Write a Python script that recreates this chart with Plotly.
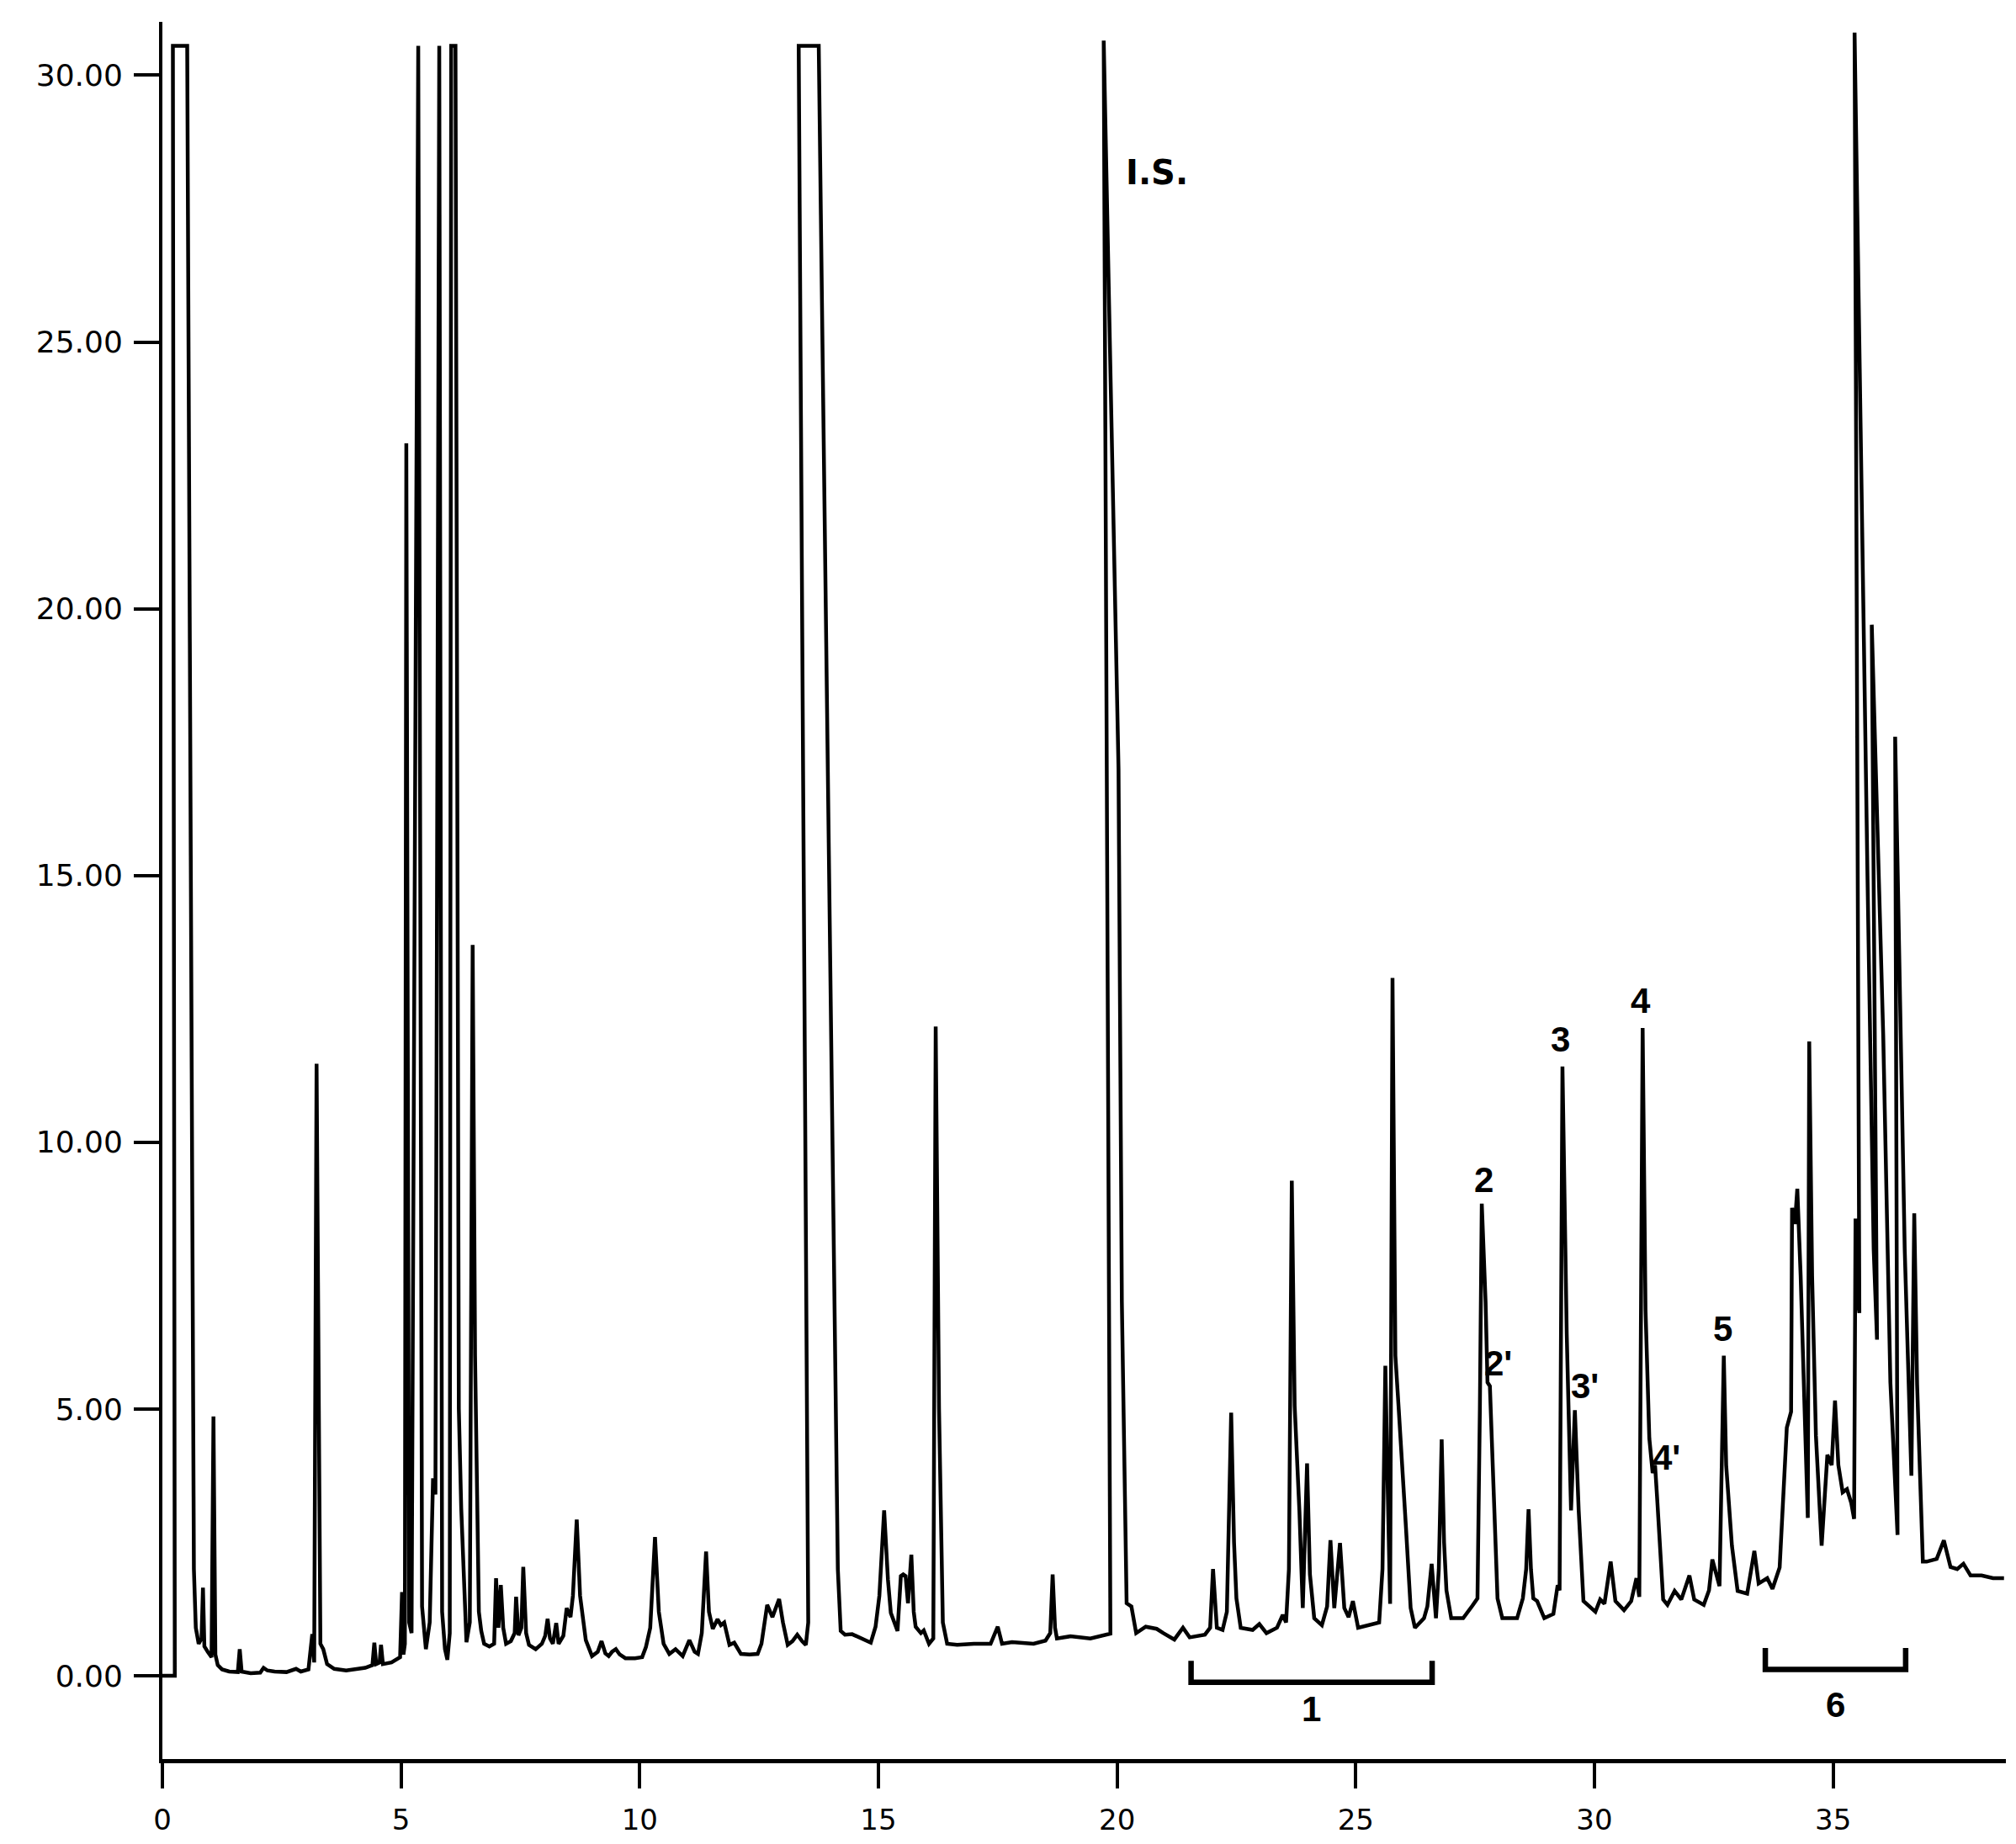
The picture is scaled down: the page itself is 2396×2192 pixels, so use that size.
import plotly.graph_objects as go

# ---------------- data ----------------
retention_time = [
    0.00, 0.26, 0.22, 0.52, 0.66, 0.70, 0.76, 0.82, 0.85, 0.88, 0.95, 1.03, 1.07, 1.11, 1.16,
    1.25, 1.40, 1.58, 1.62, 1.66, 1.85, 2.05, 2.12, 2.20, 2.35, 2.60, 2.80, 2.90, 3.06, 3.14,
    3.18, 3.23, 3.31, 3.37, 3.45, 3.60, 3.85, 4.05, 4.25, 4.40, 4.44, 4.48, 4.55, 4.58, 4.62,
    4.80, 4.90, 4.98, 5.02, 5.05, 5.08, 5.11, 5.17, 5.22, 5.36, 5.44, 5.52, 5.60, 5.67, 5.72,
    5.80, 5.86, 5.92, 5.97, 6.02, 6.05, 6.14, 6.21, 6.26, 6.31, 6.37, 6.44, 6.50, 6.55, 6.59,
    6.63, 6.68, 6.74, 6.85, 6.95, 6.99, 7.04, 7.09, 7.14, 7.20, 7.30, 7.38, 7.41, 7.46, 7.52,
    7.56, 7.62, 7.68, 7.82, 7.95, 8.02, 8.07, 8.12, 8.18, 8.25, 8.30, 8.40, 8.47, 8.55, 8.60,
    8.68, 8.75, 8.87, 9.00, 9.12, 9.20, 9.28, 9.35, 9.42, 9.50, 9.58, 9.70, 9.90, 10.05, 10.13,
    10.22, 10.32, 10.40, 10.50, 10.62, 10.75, 10.90, 11.04, 11.15, 11.22, 11.30, 11.39, 11.45, 11.53, 11.63,
    11.70, 11.77, 11.88, 11.98, 12.12, 12.30, 12.47, 12.55, 12.67, 12.78, 12.92, 13.00, 13.10, 13.20, 13.30,
    13.40, 13.48, 13.53, 13.33, 13.75, 14.08, 14.15, 14.21, 14.30, 14.45, 14.60, 14.75, 14.84, 14.94, 15.02,
    15.12, 15.20, 15.26, 15.40, 15.47, 15.52, 15.57, 15.62, 15.69, 15.74, 15.78, 15.89, 15.95, 16.06, 16.15,
    16.20, 16.27, 16.35, 16.44, 16.65, 17.00, 17.35, 17.50, 17.59, 17.80, 18.05, 18.25, 18.50, 18.60, 18.65,
    18.70, 18.74, 19.02, 19.44, 19.86, 19.72, 20.03, 20.10, 20.20, 20.30, 20.40, 20.60, 20.83, 20.97, 21.20,
    21.38, 21.52, 21.84, 21.95, 22.01, 22.09, 22.21, 22.30, 22.39, 22.45, 22.50, 22.59, 22.84, 22.98, 23.13,
    23.35, 23.47, 23.54, 23.60, 23.66, 23.72, 23.82, 23.89, 23.98, 24.04, 24.13, 24.29, 24.40, 24.47, 24.55,
    24.67, 24.76, 24.85, 24.94, 25.05, 25.30, 25.49, 25.56, 25.62, 25.67, 25.72, 25.77, 25.83, 25.90, 25.99,
    26.05, 26.15, 26.24, 26.43, 26.50, 26.59, 26.64, 26.68, 26.74, 26.80, 26.85, 26.90, 27.00, 27.25, 27.44,
    27.55, 27.60, 27.64, 27.72, 27.76, 27.81, 27.85, 27.88, 27.97, 28.07, 28.38, 28.50, 28.57, 28.62, 28.67,
    28.72, 28.80, 28.95, 29.14, 29.23, 29.27, 29.33, 29.42, 29.51, 29.59, 29.67, 29.77, 30.02, 30.12, 30.21,
    30.34, 30.44, 30.62, 30.77, 30.88, 30.94, 31.01, 31.07, 31.15, 31.22, 31.27, 31.32, 31.44, 31.53, 31.68,
    31.82, 31.99, 32.09, 32.29, 32.40, 32.47, 32.62, 32.71, 32.76, 32.88, 33.00, 33.20, 33.35, 33.44, 33.62,
    33.73, 33.88, 33.97, 34.03, 34.12, 34.14, 34.20, 34.25, 34.32, 34.41, 34.47, 34.50, 34.56, 34.64, 34.76,
    34.88, 34.97, 35.04, 35.11, 35.20, 35.29, 35.38, 35.44, 35.47, 35.52, 35.55, 35.45, 35.72, 35.85, 35.92,
    35.81, 36.05, 36.20, 36.35, 36.30, 36.50, 36.60, 36.64, 36.70, 36.76, 36.88, 36.96, 37.17, 37.32, 37.46,
    37.60, 37.73, 37.88, 38.11, 38.35, 38.58,
]

detector_response = [
    0.00, 0.00, 30.55, 30.55, 2.00, 0.90, 0.60, 0.70, 1.65, 0.55, 0.45, 0.35, 4.86, 0.40, 0.20,
    0.12, 0.08, 0.07, 0.50, 0.08, 0.05, 0.06, 0.15, 0.10, 0.08, 0.07, 0.13, 0.08, 0.12, 0.78,
    0.25, 11.47, 0.60, 0.50, 0.22, 0.13, 0.10, 0.13, 0.15, 0.20, 0.62, 0.22, 0.25, 0.58, 0.22,
    0.25, 0.30, 0.35, 1.57, 0.40, 0.60, 23.10, 1.00, 0.80, 30.55, 1.30, 0.50, 1.00, 3.70, 3.40,
    30.55, 1.20, 0.50, 0.30, 0.80, 30.55, 30.55, 5.00, 3.15, 2.00, 0.63, 1.00, 13.70, 6.00, 3.10,
    1.20, 0.84, 0.60, 0.55, 0.60, 1.83, 0.90, 1.70, 0.90, 0.60, 0.65, 0.80, 1.48, 0.76, 0.90,
    2.04, 0.80, 0.58, 0.50, 0.60, 0.75, 1.07, 0.70, 0.60, 0.99, 0.60, 0.75, 1.27, 1.10, 1.50,
    2.93, 1.50, 0.67, 0.37, 0.45, 0.65, 0.42, 0.37, 0.45, 0.50, 0.40, 0.33, 0.33, 0.35, 0.54,
    0.90, 2.60, 1.20, 0.60, 0.41, 0.50, 0.37, 0.67, 0.45, 0.41, 0.80, 2.33, 1.20, 0.88, 1.06,
    0.95, 1.00, 0.58, 0.62, 0.41, 0.40, 0.41, 0.60, 1.33, 1.10, 1.44, 1.00, 0.58, 0.65, 0.77,
    0.65, 0.58, 1.00, 30.55, 30.55, 8.00, 2.00, 0.84, 0.77, 0.78, 0.72, 0.65, 0.62, 0.92, 1.50,
    3.10, 1.80, 1.18, 0.84, 1.87, 1.90, 1.87, 1.36, 2.27, 1.20, 0.92, 0.80, 0.85, 0.60, 0.70,
    12.17, 5.00, 1.00, 0.60, 0.58, 0.60, 0.60, 0.92, 0.60, 0.63, 0.62, 0.60, 0.66, 0.80, 1.90,
    0.90, 0.70, 0.74, 0.70, 0.79, 30.65, 17.00, 7.00, 1.36, 1.30, 0.80, 0.92, 0.88, 0.80, 0.68,
    0.90, 0.72, 0.77, 0.90, 2.00, 0.90, 0.86, 1.20, 4.93, 2.50, 1.45, 0.90, 0.86, 0.97, 0.80,
    0.90, 1.14, 1.00, 2.00, 9.28, 5.06, 3.08, 1.27, 3.98, 1.90, 1.08, 0.95, 1.30, 2.54, 1.27,
    2.49, 1.27, 1.10, 1.40, 0.90, 0.95, 1.00, 2.00, 5.81, 3.50, 1.35, 13.08, 6.00, 5.00, 3.80,
    2.80, 1.27, 0.90, 1.08, 1.30, 2.10, 1.40, 1.08, 2.00, 4.43, 2.50, 1.60, 1.08, 1.08, 1.31,
    1.45, 5.00, 8.85, 7.00, 5.50, 5.43, 4.50, 3.53, 1.45, 1.08, 1.08, 1.45, 2.00, 3.12, 2.00,
    1.45, 1.40, 1.08, 1.16, 1.70, 1.60, 11.42, 6.40, 3.10, 4.98, 3.10, 1.40, 1.20, 1.43, 1.35,
    2.14, 1.40, 1.23, 1.40, 1.83, 1.48, 12.14, 6.87, 4.45, 3.80, 3.95, 3.24, 1.43, 1.33, 1.59,
    1.43, 1.88, 1.43, 1.33, 1.60, 2.18, 1.68, 6.00, 3.95, 2.44, 1.59, 1.54, 2.34, 1.73, 1.83,
    1.63, 2.03, 3.44, 4.65, 4.95, 8.77, 8.47, 9.13, 7.50, 4.45, 2.96, 11.89, 7.50, 4.50, 2.44,
    4.14, 3.95, 5.16, 3.95, 3.44, 3.50, 3.24, 2.94, 8.57, 7.00, 6.80, 30.80, 15.00, 8.00, 6.30,
    19.70, 12.00, 5.50, 2.64, 17.60, 8.00, 4.50, 3.75, 8.67, 5.46, 2.14, 2.14, 2.19, 2.54, 2.04,
    2.00, 2.10, 1.88, 1.88, 1.83, 1.83,
]

# axis ticks
x_tick_values = [0, 5, 10, 15, 20, 25, 30, 35]
x_tick_labels = ["0", "5", "10", "15", "20", "25", "30", "35"]
y_tick_values = [0, 5, 10, 15, 20, 25, 30]
y_tick_labels = ["0.00", "5.00", "10.00", "15.00", "20.00", "25.00", "30.00"]

# peak labels
peak_label_text = ["2", "2'", "3", "3'", "4", "4'", "5"]
peak_label_x = [27.68, 27.99, 29.29, 29.80, 30.97, 31.50, 32.69]
peak_label_y = [9.30, 5.86, 11.93, 5.43, 12.65, 4.10, 6.50]

standard_label = "I.S."
standard_x = 20.83
standard_y = 28.17

# fraction brackets
bracket_names = ["1", "6"]
bracket_start = [21.55, 33.58]
bracket_end = [26.60, 36.52]
bracket_base = [-0.12, 0.12]
bracket_top = [0.28, 0.52]
bracket_label_y = [-0.62, -0.54]

# ---------------- figure ----------------
fig = go.Figure()

fig.add_trace(go.Scatter(
    x=retention_time, y=detector_response, mode="lines",
    line=dict(color="black", width=4.5), hoverinfo="skip", showlegend=False,
))

for name, x0, x1, yb, yt, ly in zip(bracket_names, bracket_start, bracket_end,
                                     bracket_base, bracket_top, bracket_label_y):
    fig.add_trace(go.Scatter(
        x=[x0, x0, x1, x1], y=[yt, yb, yb, yt], mode="lines",
        line=dict(color="black", width=6.5), hoverinfo="skip", showlegend=False,
    ))
    fig.add_annotation(x=(x0 + x1) / 2, y=ly, text=name, showarrow=False,
                       xref="x", yref="y", xanchor="center", yanchor="middle",
                       font=dict(family="Liberation Sans", size=42, color="black", weight="bold"))

for t, xx, yy in zip(peak_label_text, peak_label_x, peak_label_y):
    fig.add_annotation(x=xx, y=yy, text=t, showarrow=False, xref="x", yref="y",
                       xanchor="center", yanchor="middle",
                       font=dict(family="Liberation Sans", size=42, color="black", weight="bold"))

fig.add_annotation(x=standard_x, y=standard_y, text=standard_label, showarrow=False,
                   xref="x", yref="y", xanchor="center", yanchor="middle",
                   font=dict(family="DejaVu Sans", size=40, color="black", weight="bold"))

fig.update_layout(
    width=2396, height=2192,
    margin=dict(l=185, r=20, t=18, b=109),
    paper_bgcolor="white", plot_bgcolor="white",
    showlegend=False,
    xaxis=dict(
        range=[0, 38.62], showgrid=False, zeroline=False,
        showline=True, linecolor="black", linewidth=4.5,
        ticks="outside", ticklen=30, tickwidth=3.5, tickcolor="black",
        tickvals=x_tick_values, ticktext=x_tick_labels,
        tickfont=dict(family="DejaVu Sans", size=34, color="black"),
        ticklabelstandoff=8,
    ),
    yaxis=dict(
        range=[-1.56, 31.0], showgrid=False, zeroline=False,
        showline=True, linecolor="black", linewidth=4,
        ticks="outside", ticklen=30, tickwidth=3.5, tickcolor="black",
        tickvals=y_tick_values, ticktext=y_tick_labels,
        tickfont=dict(family="DejaVu Sans", size=36, color="black"),
        ticklabelstandoff=6,
    ),
)

fig.write_html("out.html")
